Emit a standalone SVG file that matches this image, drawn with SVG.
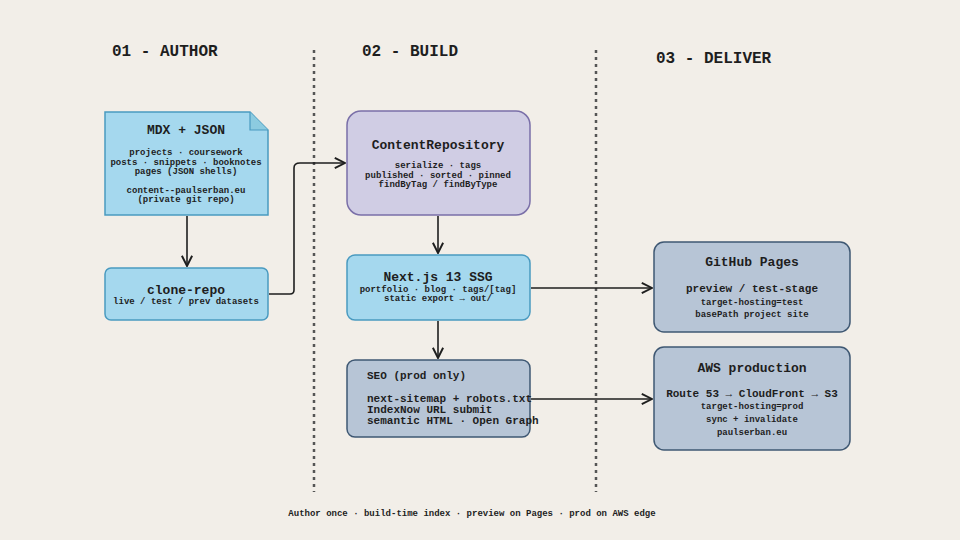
<svg xmlns="http://www.w3.org/2000/svg" width="960" height="540" viewBox="0 0 960 540">
<defs>
<style>
text{font-family:"Liberation Mono","DejaVu Sans Mono",monospace;font-weight:bold;fill:#1e1e1e;text-anchor:middle}
.h{font-size:16px}.t{font-size:13px}.s{font-size:9px}.m{font-size:11px}
.sec{font-size:16px;text-anchor:start}
.n{stroke:#1e1e1e;stroke-width:1.3}
.blue{fill:#a5d8ee;stroke:#4a9ac0}
.grey{fill:#b7c5d6;stroke:#3f5873}
.purple{fill:#d0cde4;stroke:#7a6fa8}
.c{fill:none;stroke:#1e1e1e;stroke-width:1.6}
.d{stroke:#555;stroke-width:2.5;stroke-dasharray:3 4}
</style>
<marker id="a" viewBox="0 0 10 10" refX="9" refY="5" markerWidth="8" markerHeight="8" orient="auto"><path d="M1 1 L9 5 L1 9" fill="none" stroke="#1e1e1e" stroke-width="1.5"/></marker>
</defs>
<rect width="960" height="540" fill="#f2eee8"/>
<line class="d" x1="314" y1="50" x2="314" y2="492"/>
<line class="d" x1="596" y1="50" x2="596" y2="492"/>
<text class="sec" x="112" y="56">01 - AUTHOR</text>
<text class="sec" x="362" y="56">02 - BUILD</text>
<text class="sec" x="656" y="63">03 - DELIVER</text>
<g id="mdx">
<path class="blue" d="M105 112 H250 L268 130 V215 H105 Z" stroke-width="1.5"/>
<path d="M250 112 V130 H268" fill="#8ccbe0" stroke="#4a9ac0" stroke-width="1.2"/>
<text class="t" x="186" y="134">MDX + JSON</text>
<text class="s" x="186" y="155">projects · coursework</text>
<text class="s" x="186" y="165">posts · snippets · booknotes</text>
<text class="s" x="186" y="174">pages (JSON shells)</text>
<text class="s" x="186" y="193">content--paulserban.eu</text>
<text class="s" x="186" y="202">(private git repo)</text>
</g>
<g id="clone">
<rect class="blue" x="105" y="268" width="163" height="52" rx="6" stroke-width="1.5"/>
<text class="t" x="186" y="294">clone-repo</text>
<text class="s" x="186" y="304">live / test / prev datasets</text>
</g>
<g id="repo">
<rect class="purple" x="347" y="111" width="183" height="104" rx="14" stroke-width="1.5"/>
<text class="t" x="438" y="149">ContentRepository</text>
<text class="s" x="438" y="168">serialize · tags</text>
<text class="s" x="438" y="178">published · sorted · pinned</text>
<text class="s" x="438" y="187">findByTag / findByType</text>
</g>
<g id="next">
<rect class="blue" x="347" y="255" width="183" height="65" rx="8" stroke-width="1.5"/>
<text class="t" x="438" y="281">Next.js 13 SSG</text>
<text class="s" x="438" y="292">portfolio · blog · tags/[tag]</text>
<text class="s" x="438" y="301">static export → out/</text>
</g>
<g id="seo">
<rect class="grey" x="347" y="360" width="183" height="77" rx="8" stroke-width="1.5"/>
<text class="m" x="367" y="379" style="text-anchor:start">SEO (prod only)</text>
<text class="m" x="367" y="402" style="text-anchor:start">next-sitemap + robots.txt</text>
<text class="m" x="367" y="413" style="text-anchor:start">IndexNow URL submit</text>
<text class="m" x="367" y="424" style="text-anchor:start">semantic HTML · Open Graph</text>
</g>
<g id="gh">
<rect class="grey" x="654" y="242" width="196" height="90" rx="10" stroke-width="1.5"/>
<text class="t" x="752" y="266">GitHub Pages</text>
<text class="m" x="752" y="292">preview / test-stage</text>
<text class="s" x="752" y="305">target-hosting=test</text>
<text class="s" x="752" y="317">basePath project site</text>
</g>
<g id="aws">
<rect class="grey" x="654" y="347" width="196" height="103" rx="10" stroke-width="1.5"/>
<text class="t" x="752" y="372">AWS production</text>
<text class="m" x="752" y="397">Route 53 → CloudFront → S3</text>
<text class="s" x="752" y="409">target-hosting=prod</text>
<text class="s" x="752" y="422">sync + invalidate</text>
<text class="s" x="752" y="435">paulserban.eu</text>
</g>
<g id="connectors">
<path class="c" d="M187 216 V266" marker-end="url(#a)"/>
<path class="c" d="M269 294 H290 Q294 294 294 290 V168 Q294 163 300 163 H345" marker-end="url(#a)"/>
<path class="c" d="M438 216 V253" marker-end="url(#a)"/>
<path class="c" d="M531 288 H652" marker-end="url(#a)"/>
<path class="c" d="M438 321 V358" marker-end="url(#a)"/>
<path class="c" d="M531 399 H652" marker-end="url(#a)"/>
</g>
<text class="s" x="472" y="516">Author once · build-time index · preview on Pages · prod on AWS edge</text>
</svg>
